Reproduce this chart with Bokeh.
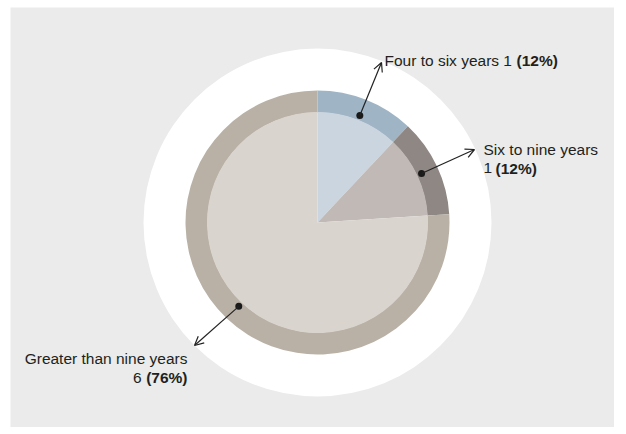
from bokeh.plotting import figure
from bokeh.models import Range1d, Arrow, OpenHead, ColumnDataSource
from bokeh.core.properties import value
from bokeh.embed import file_html
from bokeh.resources import INLINE
import math

# ---- data ----
categories = ["Four to six years", "Six to nine years", "Greater than nine years"]
counts = [1, 1, 6]
percents = [12, 12, 76]
ring_colors = ["#9FB5C5", "#8E8783", "#B9B1A6"]
inner_colors = ["#CBD5DF", "#C0B9B5", "#D9D4CE"]

FW, FH = 604, 420          # gray panel (frame)
ML, MT = 10, 7             # white page offset
BG = "#EAEBEA"
FONT = "Liberation Sans Narrow, Arial Narrow, Liberation Sans, sans-serif"
TXT = "#231F20"

def X(px):
    return px - ML

def Y(py):
    return FH + MT - py

cx, cy = X(317), Y(222)
R_white, R_ring, R_inner = 174, 132, 110.5

p = figure(width=FW + ML, height=FH + MT, output_backend="svg", toolbar_location=None,
           x_range=Range1d(0, FW), y_range=Range1d(0, FH),
           min_border=0, min_border_left=ML, min_border_top=MT,
           background_fill_color=BG, border_fill_color="white", outline_line_color=None)
p.axis.visible = False
p.grid.visible = False

p.circle(x=[cx], y=[cy], radius=R_white, fill_color="white", line_color=None)

starts, ends, mids = [], [], []
cum = 0
for pc in percents:
    s = 90 - cum * 3.6
    cum += pc
    e = 90 - cum * 3.6
    starts.append(math.radians(s))
    ends.append(math.radians(e))
    mids.append(math.radians((s + e) / 2))

src = ColumnDataSource(dict(start=starts, end=ends, ring=ring_colors, inner=inner_colors,
                            x=[cx] * 3, y=[cy] * 3))
p.annular_wedge(x="x", y="y", inner_radius=R_inner - 0.5, outer_radius=R_ring,
                start_angle="start", end_angle="end", direction="clock",
                fill_color="ring", line_color=None, source=src)
p.wedge(x="x", y="y", radius=R_inner, start_angle="start", end_angle="end",
        direction="clock", fill_color="inner", line_color=None, source=src)

# leader arrows: from dot on ring (mid-angle) to label
tips = [(381, 62), (474, 149), (194, 345)]
r_dot = 115
dx, dy = [], []
for m, (tx, ty) in zip(mids, tips):
    x0 = cx + r_dot * math.cos(m)
    y0 = cy + r_dot * math.sin(m)
    dx.append(x0)
    dy.append(y0)
    p.add_layout(Arrow(end=OpenHead(size=9, line_width=1.2, line_color="#222222"),
                       x_start=x0, y_start=y0, x_end=X(tx), y_end=Y(ty),
                       line_width=1.2, line_color="#222222"))
p.scatter(x=dx, y=dy, size=7, fill_color="#1A1A1A", line_color=None)

fs = "15.5px"

def txt(x, y, s, bold=False, align="left"):
    p.text(x=[x], y=[y], text=[s], text_font=value(FONT), text_font_size=fs,
           text_font_style="bold" if bold else "normal", text_color=TXT,
           text_align=align, text_baseline="alphabetic")

# label 1
txt(X(384), Y(60), f"{categories[0]} {counts[0]}")
txt(X(516), Y(60), f"({percents[0]}%)", bold=True)
# label 2
txt(X(483), Y(149), categories[1])
txt(X(483), Y(167.5), f"{counts[1]}")
txt(X(495), Y(167.5), f"({percents[1]}%)", bold=True)
# label 3
txt(X(187), Y(358), categories[2], align="right")
txt(X(187), Y(377), f"({percents[2]}%)", bold=True, align="right")
txt(X(141), Y(377), f"{counts[2]}", align="right")

open("out.html", "w").write(file_html(p, INLINE))
